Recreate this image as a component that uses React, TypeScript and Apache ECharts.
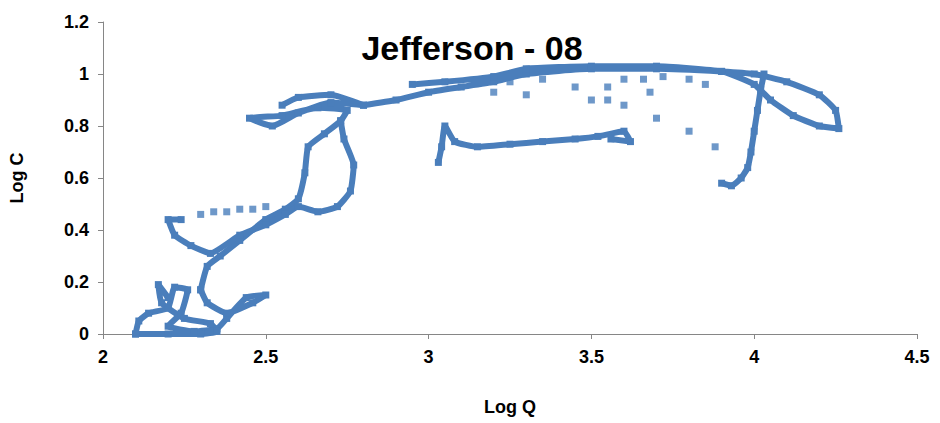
import { useEffect, useRef } from 'react'
import * as echarts from 'echarts'

const xTicks = [2, 2.5, 3, 3.5, 4, 4.5]
const yTicks = [0, 0.2, 0.4, 0.6, 0.8, 1, 1.2]

const lowLeft = [[2.1, 0], [2.11, 0.05], [2.14, 0.08], [2.2, 0.1], [2.22, 0.18], [2.26, 0.17], [2.24, 0.08], [2.2, 0.03], [2.28, 0.01], [2.35, 0.02], [2.38, 0.06], [2.44, 0.14], [2.5, 0.15], [2.46, 0.12], [2.38, 0.08], [2.32, 0.12], [2.3, 0.17]]
const lowBase = [[2.1, 0], [2.2, 0], [2.3, 0], [2.35, 0.01], [2.33, 0.04], [2.25, 0.06], [2.18, 0.12], [2.17, 0.19], [2.2, 0.14]]
const riseA = [[2.3, 0.17], [2.32, 0.26], [2.36, 0.3], [2.42, 0.36], [2.5, 0.44], [2.56, 0.48], [2.6, 0.52], [2.62, 0.62], [2.63, 0.72], [2.68, 0.77], [2.73, 0.82], [2.75, 0.86], [2.66, 0.87], [2.55, 0.84], [2.45, 0.83], [2.52, 0.8], [2.6, 0.85], [2.7, 0.89], [2.8, 0.88], [2.7, 0.92], [2.6, 0.91], [2.55, 0.88]]
const loopB = [[2.73, 0.82], [2.74, 0.75], [2.77, 0.65], [2.76, 0.55], [2.72, 0.49], [2.66, 0.47], [2.6, 0.49], [2.56, 0.46], [2.5, 0.42], [2.42, 0.38], [2.33, 0.31], [2.27, 0.34], [2.22, 0.38], [2.2, 0.44], [2.24, 0.44]]
const sparseA = [[2.3, 0.46], [2.34, 0.47], [2.38, 0.47], [2.42, 0.48], [2.46, 0.48], [2.5, 0.49], [3.55, 0.9], [3.6, 0.88], [3.7, 0.83], [3.8, 0.78], [3.88, 0.72], [3.66, 0.98]]
const upper = [[2.8, 0.88], [2.9, 0.9], [3.0, 0.93], [3.1, 0.95], [3.2, 0.97], [3.3, 1.0], [3.5, 1.02], [3.7, 1.02], [3.9, 1.01], [4.0, 1.0], [4.1, 0.97], [4.2, 0.92], [4.25, 0.86], [4.26, 0.79], [4.2, 0.8], [4.12, 0.84], [4.05, 0.9], [4.0, 0.96], [3.9, 1.01], [3.7, 1.03], [3.5, 1.03], [3.3, 1.02], [3.2, 0.99], [3.05, 0.97], [2.95, 0.96]]
const upperBits = [[3.2, 0.93], [3.25, 0.97], [3.3, 0.92], [3.35, 0.98], [3.45, 0.95], [3.5, 0.9], [3.55, 0.95], [3.6, 0.98], [3.68, 0.93], [3.72, 0.99], [3.8, 0.98], [3.85, 0.96]]
const drop = [[4.03, 1.0], [4.02, 0.94], [4.01, 0.86], [4.0, 0.78], [3.99, 0.7], [3.98, 0.64], [3.96, 0.6], [3.93, 0.57], [3.9, 0.58]]
const lower = [[3.03, 0.66], [3.04, 0.72], [3.05, 0.8], [3.08, 0.74], [3.15, 0.72], [3.25, 0.73], [3.35, 0.74], [3.45, 0.75], [3.52, 0.76], [3.6, 0.78], [3.62, 0.74], [3.56, 0.75]]

const BLUE = '#4a7ebb'
const line = (data: number[][]) => ({
  type: 'line', data, symbol: 'rect', symbolSize: 7, showSymbol: true,
  lineStyle: { color: BLUE, width: 6 }, itemStyle: { color: BLUE }, smooth: 0.15,
})

export default function App() {
  const ref = useRef<HTMLDivElement>(null)
  useEffect(() => {
    if (!ref.current) return
    document.body.style.margin = '0'
    const chart = echarts.init(ref.current, undefined, { renderer: 'svg' })
    const axisText = { color: '#000', fontSize: 18, fontWeight: 'bold', fontFamily: 'Liberation Sans' }
    chart.setOption({
      animation: false,
      title: { text: 'Jefferson - 08', left: 467, top: 26, textAlign: 'center', textStyle: { fontSize: 34, fontWeight: 'bold', fontFamily: 'Liberation Sans', color: '#000' } },
      grid: { left: 103, right: 23, top: 22, bottom: 89, containLabel: false, outerBoundsMode: 'none' },
      xAxis: {
        type: 'value', min: 2, max: 4.5, interval: 0.5,
        name: 'Log Q', nameLocation: 'middle', nameGap: 64,
        nameTextStyle: axisText,
        axisLine: { lineStyle: { color: '#868686' } }, axisTick: { show: true, lineStyle: { color: '#868686' } },
        axisLabel: { ...axisText, margin: 14, formatter: (v: number) => (xTicks.includes(v) ? String(v) : '') },
        splitLine: { show: false },
      },
      yAxis: {
        type: 'value', min: 0, max: 1.2, interval: 0.2,
        name: 'Log C', nameLocation: 'middle', nameGap: 77, nameRotate: 90,
        nameTextStyle: axisText,
        axisLine: { show: true, lineStyle: { color: '#868686' } }, axisTick: { show: true, lineStyle: { color: '#868686' } },
        axisLabel: { ...axisText, margin: 14, formatter: (v: number) => { const t = yTicks.find((y) => Math.abs(y - v) < 1e-6); return t === undefined ? '' : String(t) } },
        splitLine: { show: false },
      },
      series: [
        line(lowLeft), line(lowBase), line(riseA), line(loopB), line(upper), line(drop), line(lower),
        { type: 'scatter', data: [...sparseA, ...upperBits], symbol: 'rect', symbolSize: 7, itemStyle: { color: BLUE } },
      ],
    })
    return () => chart.dispose()
  }, [])
  return <div ref={ref} style={{ width: 940, height: 423 }} />
}
